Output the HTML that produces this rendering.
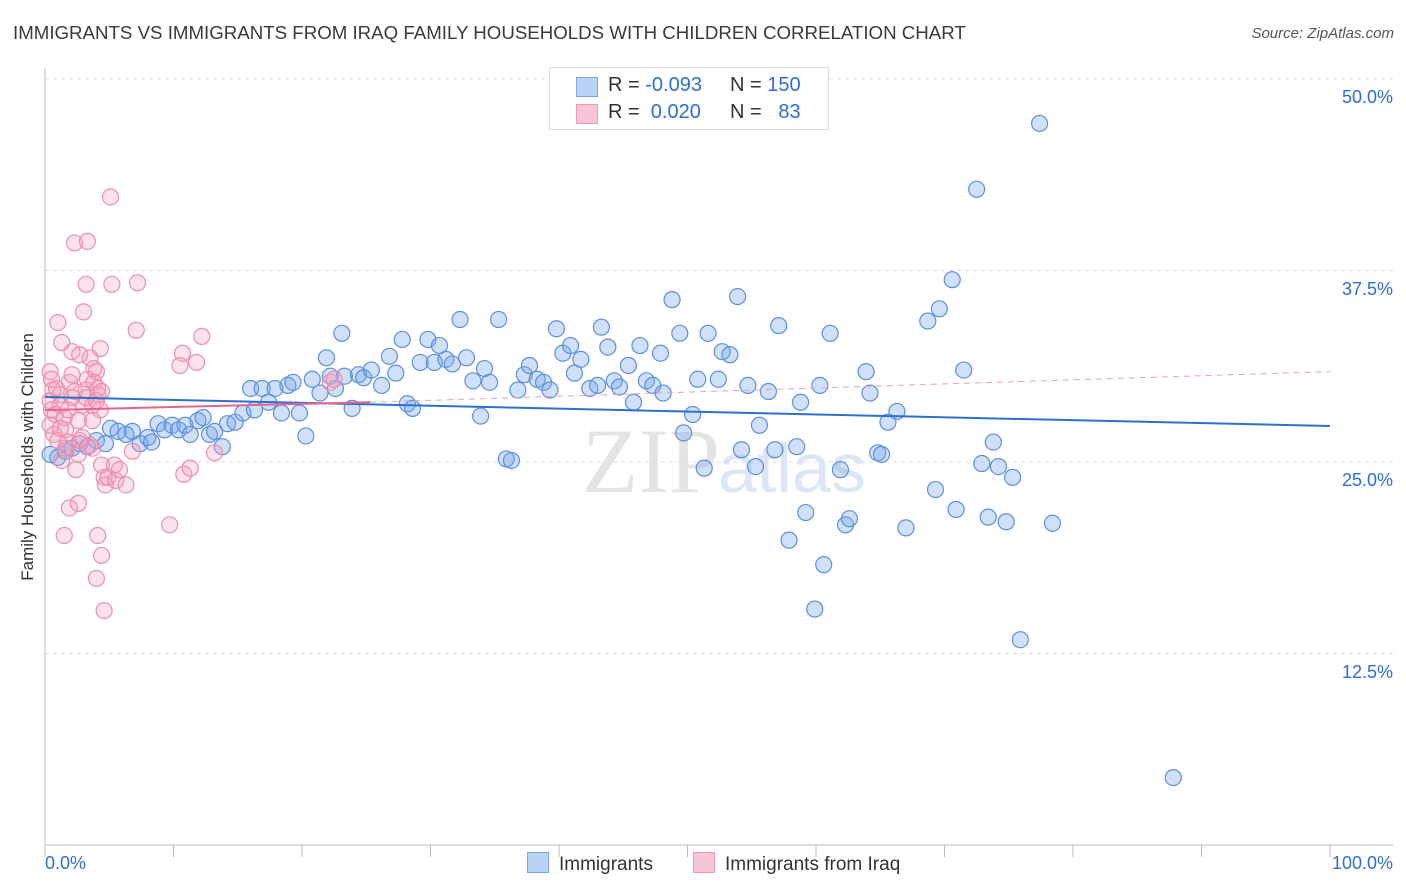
<!DOCTYPE html>
<html><head><meta charset="utf-8">
<style>
body{margin:0;background:#fff;font-family:"Liberation Sans",sans-serif;}
#wrap{position:relative;width:1406px;height:892px;overflow:hidden;}
.t{position:absolute;white-space:nowrap;}
</style></head><body>
<div id="wrap">
<div class="t" style="left:13px;top:22px;font-size:18.7px;color:#3a3a3a;">IMMIGRANTS VS IMMIGRANTS FROM IRAQ FAMILY HOUSEHOLDS WITH CHILDREN CORRELATION CHART</div>
<div class="t" style="right:12px;top:25px;font-size:15px;color:#555;font-style:italic;">Source: ZipAtlas.com</div>
<svg id="svg" width="1406" height="892" style="position:absolute;left:0;top:0">
<text x="720" y="492" text-anchor="end" font-family="Liberation Serif" font-size="92" fill="#e4e4e4">ZIP</text>
<text x="718" y="492" font-family="Liberation Sans" font-size="70" fill="#dce6f4">atlas</text>
</svg>
<div class="t" style="left:28px;top:457px;font-size:17px;color:#333;transform:translate(-50%,-50%) rotate(-90deg);">Family Households with Children</div>
<div style="position:absolute;left:549px;top:67px;width:278px;height:61px;border:1px solid #ddd;background:#fff;font-size:20px;">
 <div style="position:absolute;left:26px;top:9px;width:20px;height:18px;background:#b9d3f5;border:1px solid #7aa7e6;"></div>
 <div class="t" style="left:58px;top:6px;color:#333">R = <span style="color:#2d6fd0">-0.093</span></div>
 <div class="t" style="left:180px;top:6px;color:#333">N = <span style="color:#2d6fd0">150</span></div>
 <div style="position:absolute;left:26px;top:36px;width:20px;height:18px;background:#f8c5d5;border:1px solid #ee9ab5;"></div>
 <div class="t" style="left:58px;top:33px;color:#333">R = &nbsp;<span style="color:#2d6fd0">0.020</span></div>
 <div class="t" style="left:180px;top:33px;color:#333">N = &nbsp;&nbsp;<span style="color:#2d6fd0">83</span></div>
</div>
<div style="position:absolute;left:527px;top:852px;font-size:19px;color:#333;">
 <div style="position:absolute;left:0;top:0;white-space:nowrap;"><span style="display:inline-block;width:20px;height:19px;background:#b9d3f5;border:1px solid #7aa7e6;vertical-align:-3px;margin-right:10px"></span>Immigrants</div>
 <div style="position:absolute;left:166px;top:0;white-space:nowrap;"><span style="display:inline-block;width:20px;height:19px;background:#f8c5d5;border:1px solid #ee9ab5;vertical-align:-3px;margin-right:10px"></span>Immigrants&nbsp;from&nbsp;Iraq</div>
</div>
</div>
<script>
const blueX=[0.4,1.0,1.6,2.1,2.7,3.3,4.0,4.7,5.1,5.7,6.3,6.8,7.4,8.0,8.3,8.8,9.3,9.9,10.4,10.9,11.3,11.9,12.3,12.8,13.2,13.8,14.2,14.8,15.4,16.0,16.3,16.9,17.4,17.9,18.4,18.9,19.3,19.8,20.3,20.8,21.4,21.9,22.2,22.6,23.1,23.3,23.9,24.4,24.8,25.4,26.2,26.8,27.3,27.8,28.2,28.6,29.2,29.8,30.3,30.7,31.2,31.7,32.3,32.8,33.3,33.9,34.2,34.6,35.3,35.9,36.3,36.8,37.3,37.7,38.3,38.8,39.3,39.8,40.3,40.9,41.2,41.7,42.4,43.0,43.3,43.8,44.3,44.7,45.4,45.8,46.3,46.8,47.3,47.9,48.1,48.8,49.4,49.7,50.4,50.8,51.3,51.6,52.4,52.7,53.3,53.9,54.2,54.7,55.3,55.6,56.3,56.8,57.1,59.2,57.9,58.5,58.8,59.9,60.3,60.6,61.1,61.9,62.3,62.6,63.9,64.2,64.8,65.1,65.6,66.3,67.0,68.7,69.3,69.6,70.6,70.9,71.5,72.5,72.9,73.4,73.8,74.2,74.8,75.3,75.9,77.4,78.4,87.8];
const blueY=[25.5,25.3,25.7,25.9,26.2,26.0,26.4,26.2,27.2,27.0,26.8,27.0,26.2,26.6,26.3,27.5,27.1,27.4,27.1,27.4,26.8,27.7,27.9,26.8,27.0,26.0,27.5,27.6,28.2,29.8,28.4,29.8,28.9,29.8,28.2,30.0,30.2,28.2,26.7,30.4,29.5,31.8,30.6,29.8,33.4,30.6,28.5,30.7,30.5,31.0,30.0,31.9,30.8,33.0,28.8,28.5,31.5,33.0,31.5,32.6,31.7,31.4,34.3,31.8,30.3,28.0,31.1,30.2,34.3,25.2,25.1,29.7,30.7,31.3,30.4,30.2,29.7,33.7,32.1,32.6,30.8,31.7,29.8,30.0,33.8,32.5,30.3,29.9,31.3,28.9,32.6,30.3,30.0,32.1,29.5,35.6,33.4,26.9,28.1,30.4,24.6,33.4,30.4,32.2,32.0,35.8,25.8,30.0,24.7,27.4,29.6,25.8,33.9,21.7,19.9,26.0,28.9,15.4,30.0,18.3,33.4,24.5,20.9,21.3,30.9,29.5,25.6,25.5,27.6,28.3,20.7,34.2,23.2,35.0,36.9,21.9,31.0,42.8,24.9,21.4,26.3,24.7,21.1,24.0,13.4,47.1,21.0,4.4];
const pinkX=[0.4,0.5,0.6,0.4,0.5,0.8,0.4,0.7,1.0,1.3,0.9,1.2,1.2,1.5,1.6,1.8,1.9,2.1,2.3,2.4,2.6,2.7,2.9,3.0,3.2,3.3,3.5,3.7,3.8,4.0,4.1,4.3,4.4,4.6,4.7,1.0,1.3,1.5,1.9,2.1,2.3,2.6,2.7,3.0,3.2,3.3,3.5,3.7,3.8,4.0,4.1,4.3,4.4,4.6,4.9,5.1,5.2,5.4,5.5,5.8,6.3,6.8,7.1,7.2,9.7,10.5,10.7,10.8,11.3,11.8,12.2,13.2,22.2,22.5,1.2,1.6,2.1,3.2,3.7,4.1,1.8,2.6,4.0,4.4];
const pinkY=[30.9,30.4,29.7,29.0,28.4,28.1,27.4,26.8,26.4,25.1,29.8,29.4,28.7,27.9,27.1,26.3,30.2,30.7,29.6,24.5,25.5,26.4,26.6,28.7,29.7,30.4,26.1,28.7,30.2,30.9,29.4,28.4,24.8,24.0,23.5,34.1,32.8,20.2,22.0,32.2,39.3,22.3,32.0,34.8,36.6,39.4,31.8,25.9,31.1,17.4,20.2,32.4,18.9,15.3,24.0,42.3,36.6,24.8,23.8,24.5,23.5,25.7,33.6,36.7,20.9,31.3,32.1,24.2,24.6,31.5,33.2,25.6,30.2,30.4,27.2,25.9,29.2,29.2,27.7,29.8,28.4,27.7,29.0,29.6];
const blueTrendX=[0,100], blueTrendY=[29.24,27.35];
const pinkTrendX=[0,25.3,100], pinkTrendY=[28.39,28.9,30.9];
const yTicks=[12.5,25,37.5,50];
const xTicks=[0,10,20,30,40,50,60,70,80,90,100];

const X0=45,X1=1330,Y0=845,Y50=79;
const sx=v=>X0+(X1-X0)*v/100;
const sy=v=>Y0-(Y0-Y50)*v/50;
const svg=document.getElementById('svg');
const NS='http://www.w3.org/2000/svg';
function mk(tag,attrs){const e=document.createElementNS(NS,tag);for(const k in attrs)e.setAttribute(k,attrs[k]);svg.appendChild(e);return e;}
const wrap=document.getElementById('wrap');
yTicks.forEach(v=>{
 const g=mk('line',{x1:X0,x2:1393,y1:sy(v),y2:sy(v),stroke:'#dcdcdc','stroke-dasharray':'4,4'});
 
 
 const d=document.createElement('div');d.className='t';
 d.style.cssText=`right:13px;top:${sy(v)+8}px;font-size:18px;color:#2d6fd0;`;
 d.textContent=v.toFixed(1)+'%';
 
 
 wrap.appendChild(d);
});
const ax=mk('line',{x1:X0,x2:X0,y1:68,y2:Y0,stroke:'#bbb'});


const bx=mk('line',{x1:X0,x2:1393,y1:Y0,y2:Y0,stroke:'#bbb'});


xTicks.forEach(v=>{
 const t=mk('line',{x1:sx(v),x2:sx(v),y1:Y0,y2:Y0+12,stroke:'#bbb'});
 
 
});
[[0,'0.0%','left:45px'],[100,'100.0%','right:13px']].forEach(a=>{
 const d=document.createElement('div');d.className='t';
 d.style.cssText=a[2]+';top:853px;font-size:18px;color:#2d6fd0;';
 d.textContent=a[1];
 
 
 wrap.appendChild(d);
});
function pts(xs,ys,fill,stroke,name){
 xs.forEach((x,i)=>{
  const c=mk('circle',{cx:sx(x),cy:sy(ys[i]),r:8,fill:fill,stroke:stroke,'stroke-width':1.2});
  
  
 });
}
pts(blueX,blueY,'rgba(120,165,235,0.35)','#5b90dc','point-immigrants');
pts(pinkX,pinkY,'rgba(245,160,190,0.3)','#ec8fae','point-iraq');
const bl=mk('line',{x1:sx(blueTrendX[0]),y1:sy(blueTrendY[0]),x2:sx(blueTrendX[1]),y2:sy(blueTrendY[1]),stroke:'#2d6fd0','stroke-width':2});


const pl=mk('line',{x1:sx(pinkTrendX[0]),y1:sy(pinkTrendY[0]),x2:sx(pinkTrendX[1]),y2:sy(pinkTrendY[1]),stroke:'#e8648c','stroke-width':2});


const pd=mk('line',{x1:sx(pinkTrendX[1]),y1:sy(pinkTrendY[1]),x2:sx(pinkTrendX[2]),y2:sy(pinkTrendY[2]),stroke:'#e8a0b8','stroke-width':1,'stroke-dasharray':'6,5'});


</script>
</body></html>
